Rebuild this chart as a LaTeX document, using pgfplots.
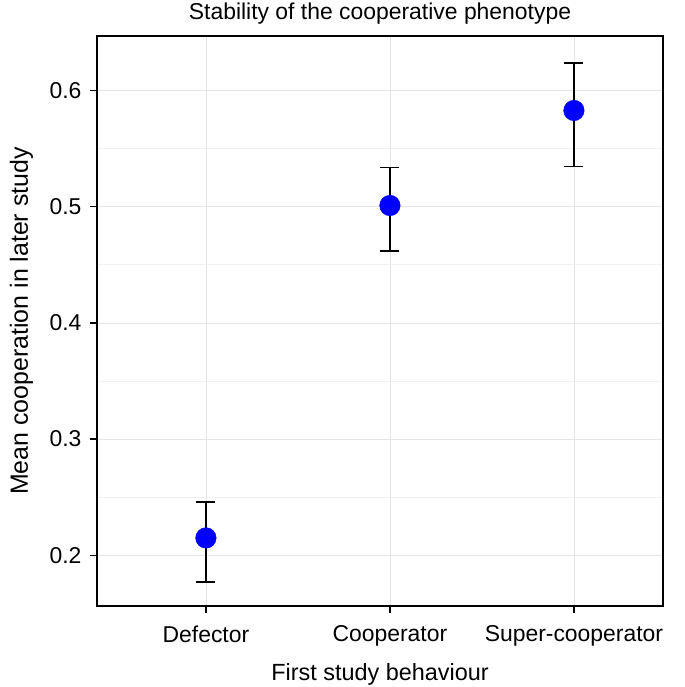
\documentclass[border=0pt]{standalone}
\usepackage{fontspec}
\setmainfont{Liberation Sans}
\usepackage{pgfplots}
\pgfplotsset{compat=1.18}
\begin{document}
\begin{tikzpicture}
\begin{axis}[
  scale only axis, width=566bp, height=570bp,
  xmin=-0.592, xmax=2.484,
  ymin=0.1563, ymax=0.6469,
  xtick={0,1,2}, xticklabels={Defector,Cooperator,Super-cooperator},
  ytick={0.2,0.3,0.4,0.5,0.6},
  minor ytick={0.25,0.35,0.45,0.55},
  yticklabel style={/pgf/number format/fixed, /pgf/number format/precision=1, /pgf/number format/fixed zerofill, xshift=-5bp},
  xticklabel style={yshift=-9bp},
  /pgf/number format/assume math mode=true,
  grid=both,
  major grid style={black!10, line width=0.7bp},
  minor grid style={black!6, line width=0.7bp},
  axis line style={black, line width=1.6bp},
  tick style={black, line width=1.3bp},
  tick align=outside, major tick length=7bp, minor tick length=0bp,
  xtick pos=bottom, ytick pos=left,
  ticklabel style={font=\fontsize{23}{27}\selectfont},
  title={Stability of the cooperative phenotype},
  title style={font=\fontsize{23}{27}\selectfont, at={(0.5,1)}, anchor=base, yshift=11bp, inner sep=0pt},
  xlabel={First study behaviour},
  ylabel={Mean cooperation in later study},
  xlabel style={font=\fontsize{23.5}{27}\selectfont, at={(rel axis cs:0.5,0)}, anchor=base, yshift=-74bp, inner sep=0pt},
  ylabel style={font=\fontsize{25}{29}\selectfont, at={(rel axis cs:0,0.5)}, anchor=base, yshift=69bp, inner sep=0pt},
  clip=false,
]
\addplot[only marks, mark=*, mark size=10.3bp, mark options={draw=blue, fill=blue},
  error bars/.cd, y dir=both, y explicit,
  error mark=|,
  error bar style={black, line width=1.5bp},
  error mark options={black, line width=1.5bp, mark size=9.5bp}]
  table[x=x, y=y, y error plus=ep, y error minus=em] {
  x y ep em
  0 0.2149 0.0310 0.0381
  1 0.5010 0.0325 0.0390
  2 0.5828 0.0410 0.0482
};
\coordinate (ll) at (rel axis cs:0,0);
\coordinate (ur) at (rel axis cs:1,1);
\end{axis}
\pgfresetboundingbox
\path (ll) ++(-97bp,-81bp);
\path (ur) ++(22bp,36bp);
\end{tikzpicture}
\end{document}
